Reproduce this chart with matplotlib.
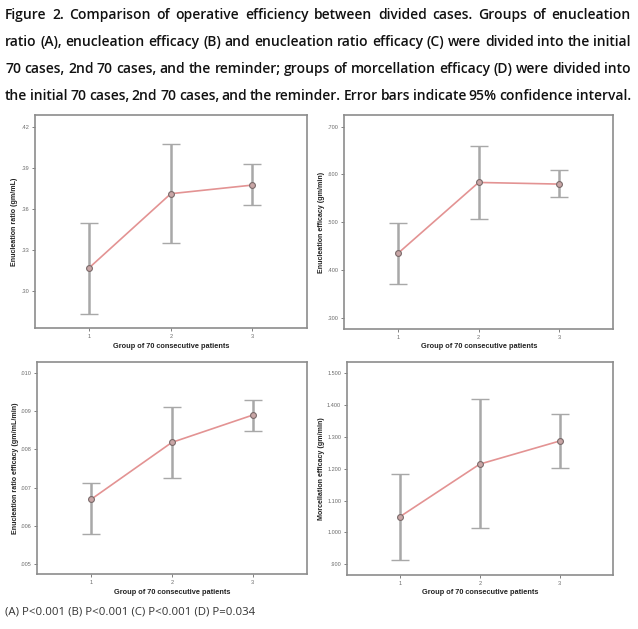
import matplotlib
matplotlib.use("Agg")
import matplotlib.pyplot as plt
import matplotlib.transforms as mtransforms

# ---- data ----
groups = [1, 2, 3]

a_mean = [0.3168, 0.3710, 0.3773]
a_low = [0.2827, 0.3347, 0.3625]
a_high = [0.3498, 0.4073, 0.3925]
a_ticks = [0.30, 0.33, 0.36, 0.39, 0.42]
a_ticklabels = [".30", ".33", ".36", ".39", ".42"]

b_mean = [0.4354, 0.5833, 0.5799]
b_low = [0.3715, 0.5077, 0.5521]
b_high = [0.4988, 0.6583, 0.6083]
b_ticks = [0.3, 0.4, 0.5, 0.6, 0.7]
b_ticklabels = [".300", ".400", ".500", ".600", ".700"]

c_mean = [0.006697, 0.008183, 0.008896]
c_low = [0.005783, 0.007245, 0.008486]
c_high = [0.007115, 0.009104, 0.009298]
c_ticks = [0.005, 0.006, 0.007, 0.008, 0.009, 0.010]
c_ticklabels = [".005", ".006", ".007", ".008", ".009", ".010"]

d_mean = [1.0494, 1.2148, 1.2874]
d_low = [0.9145, 1.0126, 1.2031]
d_high = [1.1830, 1.4180, 1.3733]
d_ticks = [0.9, 1.0, 1.1, 1.2, 1.3, 1.4, 1.5]
d_ticklabels = [".900", "1.000", "1.100", "1.200", "1.300", "1.400", "1.500"]

ylabels = ["Enucleation ratio (gm/mL)", "Enucleation efficacy (gm/min)",
           "Enucleation ratio efficacy (gm/mL/min)", "Morcellation efficacy (gm/min)"]
xlabel = "Group of 70 consecutive patients"
xticklabels = ["1", "2", "3"]

caption = [
    "Figure 2. Comparison of operative efficiency between divided cases. Groups of enucleation",
    "ratio (A), enucleation efficacy (B) and enucleation ratio efficacy (C) were divided into the initial",
    "70 cases, 2nd 70 cases, and the reminder; groups of morcellation efficacy (D) were divided into",
    "the initial 70 cases, 2nd 70 cases, and the reminder. Error bars indicate 95% confidence interval.",
]
footer = "(A) P<0.001 (B) P<0.001 (C) P<0.001 (D) P=0.034"

W, H = 638, 629
fig = plt.figure(figsize=(W / 100, H / 100), dpi=100)
fig.patch.set_facecolor("white")

def box(l, t, r, b):
    return [l / W, 1 - b / H, (r - l) / W, (b - t) / H]

panels = [
    (box(35, 115, 307, 328), a_mean, a_low, a_high, a_ticks, a_ticklabels, (0.2727, 0.4286), ylabels[0], 15, 347),
    (box(344.3, 115, 613.3, 329.3), b_mean, b_low, b_high, b_ticks, b_ticklabels, (0.277, 0.724), ylabels[1], 321.7, 347),
    (box(37.3, 361.7, 306.7, 574), c_mean, c_low, c_high, c_ticks, c_ticklabels, (0.00475, 0.01029), ylabels[2], 15.7, 593),
    (box(346.7, 361.7, 613.3, 575), d_mean, d_low, d_high, d_ticks, d_ticklabels, (0.8664, 1.5365), ylabels[3], 321.7, 593),
]

px = mtransforms.IdentityTransform()
lab_font = ["Liberation Sans", "DejaVu Sans"]

for rect, mean, low, high, ticks, tlabels, ylim, ylab, ylx, xly in panels:
    ax = fig.add_axes(rect)
    yerr = [[m - l for m, l in zip(mean, low)], [h - m for m, h in zip(mean, high)]]
    line, caps, bars = ax.errorbar(groups, mean, yerr=yerr, fmt="none", ecolor="#a8a8a8",
                                   elinewidth=1.8, capsize=6.5, capthick=1.0, zorder=2)
    for c in caps:
        c.set_color("#707070")
    ax.plot(groups, mean, color="#e39393", lw=1.2, zorder=3)
    ax.plot(groups, mean, "o", ms=4.2, mfc="#c9a6a6", mec="#7a6a6a", mew=0.8, zorder=4)
    ax.set_xlim(0.335, 3.67)
    ax.set_ylim(*ylim)
    ax.set_xticks(groups)
    ax.set_xticklabels(xticklabels, family=lab_font)
    ax.set_yticks(ticks)
    ax.set_yticklabels(tlabels, family=lab_font)
    ax.tick_params(labelsize=4, colors="#6a6a6a", length=2.5, width=0.6, pad=1.5)
    for s in ax.spines.values():
        s.set_color("#8c8c8c")
        s.set_linewidth(1.2)
    ycen = (1 - rect[1] - rect[3] / 2) * H
    fig.text(ylx, H - ycen, ylab, rotation=90, ha="center", va="center",
             fontsize=5.1, fontweight="bold", family=lab_font, color="#222222", transform=px)
    xcen = (rect[0] + rect[2] / 2) * W
    fig.text(xcen, H - xly, xlabel, ha="center", va="center",
             fontsize=5.3, fontweight="bold", family=lab_font, color="#222222", transform=px)

renderer = fig.canvas.get_renderer()

def justify(line, ycen, x0, x1, size, **kw):
    words = line.split(" ")
    texts = [fig.text(0, H - ycen, w, transform=px, va="center", ha="left", fontsize=size, **kw)
             for w in words]
    widths = [t.get_window_extent(renderer).width for t in texts]
    gap = (x1 - x0 - sum(widths)) / (len(words) - 1)
    x = x0
    for t, w in zip(texts, widths):
        t.set_x(x)
        x += w + gap

cap_kw = dict(family=["Open Sans", "DejaVu Sans"], fontweight="semibold", color="#111111")
for line, yc in zip(caption, [15, 42, 69, 96]):
    justify(line, yc, 5, 631, 10.0, **cap_kw)

fig.text(5, H - 612, footer, transform=px, va="center", ha="left", fontsize=8.2,
         family=["Open Sans", "DejaVu Sans"], color="#333333")

fig.savefig("out.png", dpi=100, facecolor="white")
